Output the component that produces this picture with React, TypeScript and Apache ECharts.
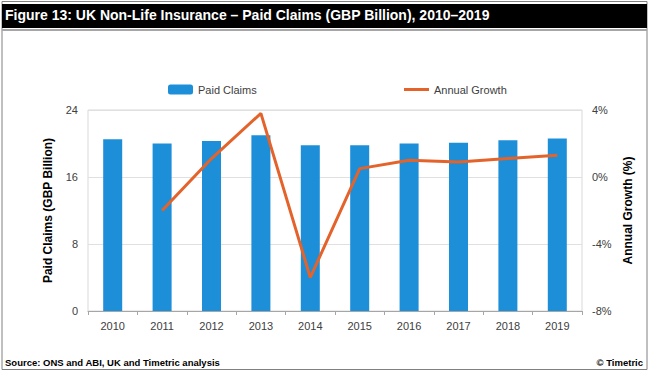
import React, { useEffect, useRef } from "react";
import * as echarts from "echarts";

const years = ["2010", "2011", "2012", "2013", "2014", "2015", "2016", "2017", "2018", "2019"];
const paidClaims = [20.5, 20.0, 20.3, 21.0, 19.8, 19.8, 20.0, 20.1, 20.4, 20.6];
const annualGrowth = [null, -2.0, 1.1, 3.8, -6.0, 0.5, 1.0, 0.9, 1.1, 1.3];

const titleText = "Figure 13: UK Non-Life Insurance \u2013 Paid Claims (GBP Billion), 2010\u20132019";
const sourceText = "Source: ONS and ABI, UK and Timetric analysis";
const copyrightText = "\u00a9 Timetric";

const FONT = "Liberation Sans, Arial, sans-serif";

export default function App() {
  const ref = useRef<HTMLDivElement>(null);
  useEffect(() => {
    document.body.style.margin = "0";
    const chart = echarts.init(ref.current!, null, { renderer: "svg" });
    chart.setOption({
      animation: false,
      backgroundColor: "#ffffff",
      textStyle: { fontFamily: FONT },
      graphic: [
        { type: "rect", shape: { x: 2, y: 1.5, width: 645, height: 368 }, style: { fill: "none", stroke: "#808080", lineWidth: 1 }, silent: true },
        { type: "rect", shape: { x: 2, y: 4, width: 645, height: 24 }, style: { fill: "#000000" }, silent: true },
        { type: "rect", shape: { x: 2, y: 29, width: 645, height: 2 }, style: { fill: "#a6a6a6" }, silent: true },
        {
          type: "text", left: 5, top: 8,
          style: { text: titleText, fill: "#ffffff", font: "bold 14px 'Liberation Sans Narrow', 'Arial Narrow', sans-serif" },
        },
        {
          type: "text", left: 5, top: 357,
          style: { text: sourceText, fill: "#000000", font: "bold 9.5px " + FONT },
        },
        {
          type: "text", right: 7, top: 357,
          style: { text: copyrightText, fill: "#000000", font: "bold 9.5px " + FONT },
        },
      ],
      legend: [
        {
          data: ["Paid Claims"], left: 163, top: 79, itemWidth: 25, itemHeight: 10, itemGap: 6,
          textStyle: { fontSize: 11, color: "#404040", fontFamily: FONT },
        },
        {
          data: [{ name: "Annual Growth", icon: "rect" }], left: 399, top: 79, itemWidth: 25, itemHeight: 3,
          textStyle: { fontSize: 11, color: "#404040", fontFamily: FONT },
        },
      ],
      grid: { left: 88, right: 68, top: 110, bottom: 61, show: true, borderColor: "#d9d9d9", borderWidth: 1 },
      xAxis: {
        type: "category",
        data: years,
        axisLine: { lineStyle: { color: "#a6a6a6" } },
        axisTick: { show: true, length: 4, lineStyle: { color: "#a6a6a6" } },
        axisLabel: { color: "#404040", fontSize: 11, margin: 9, fontFamily: FONT },
      },
      yAxis: [
        {
          type: "value", min: 0, max: 24, interval: 8,
          name: "Paid Claims (GBP Billion)", nameLocation: "middle", nameGap: 34, nameRotate: 90,
          nameTextStyle: { fontSize: 12, fontWeight: "bold", color: "#000000", fontFamily: FONT },
          axisLine: { show: false }, axisTick: { show: false },
          axisLabel: { color: "#404040", fontSize: 11, margin: 10, fontFamily: FONT },
          splitLine: { lineStyle: { color: "#e0e0e0" } },
        },
        {
          type: "value", min: -8, max: 4, interval: 4,
          name: "Annual Growth (%)", nameLocation: "middle", nameGap: 37, nameRotate: 90,
          nameTextStyle: { fontSize: 12, fontWeight: "bold", color: "#000000", fontFamily: FONT },
          axisLine: { show: false }, axisTick: { show: false },
          axisLabel: { color: "#404040", fontSize: 11, margin: 10, formatter: "{value}%", fontFamily: FONT },
          splitLine: { show: false },
        },
      ],
      series: [
        {
          name: "Paid Claims", type: "bar", data: paidClaims, barWidth: 19,
          itemStyle: { color: "#1c8fd8" },
        },
        {
          name: "Annual Growth", type: "line", yAxisIndex: 1, data: annualGrowth,
          symbol: "none", lineStyle: { color: "#e4632a", width: 3 }, itemStyle: { color: "#e4632a" },
        },
      ],
    });
    return () => chart.dispose();
  }, []);
  return <div ref={ref} style={{ width: 650, height: 372 }} />;
}
